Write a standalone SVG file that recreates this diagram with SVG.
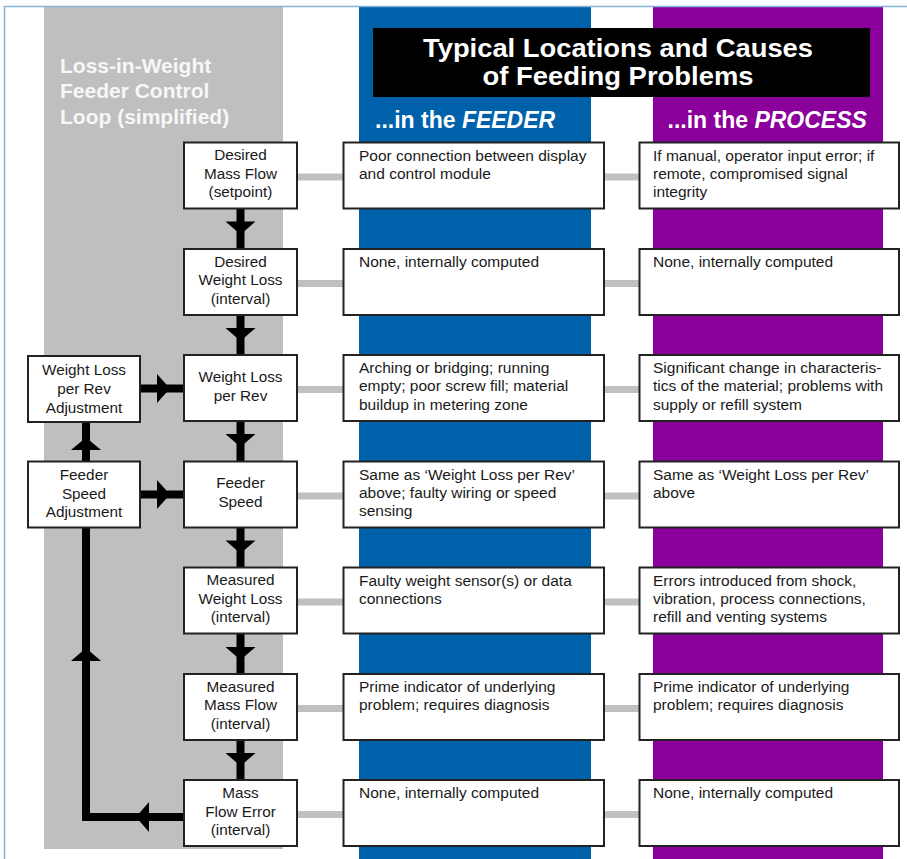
<svg xmlns="http://www.w3.org/2000/svg" width="907" height="859" viewBox="0 0 907 859">
<style>
.box{fill:#fff;stroke:#222;stroke-width:2}
.t{font-family:"Liberation Sans",Arial,sans-serif;font-size:15.3px;fill:#1a1a1a}
.c{text-anchor:middle}
.d{font-size:15.5px}
.g{fill:#c0c0c0}
.k{fill:#000}
.w{font-family:"Liberation Sans",Arial,sans-serif;font-weight:bold;fill:#fff}
</style>
<rect x="0" y="0" width="907" height="859" fill="#fff"/>
<g id="columns">
<rect x="44" y="6" width="239" height="843" fill="#bfbfbf"/>
<rect x="359" y="6" width="232" height="853" fill="#0061ab"/>
<rect x="653" y="6" width="230" height="853" fill="#8b009b"/>
<path d="M4.5 859V6.5H907" fill="none" stroke="#84b4da" stroke-width="1.5"/>
</g>
<g id="titles">
<rect x="373" y="28" width="497" height="69" fill="#000"/>
<text class="w" x="618" y="57" font-size="26" text-anchor="middle" textLength="390" lengthAdjust="spacingAndGlyphs">Typical Locations and Causes</text>
<text class="w" x="618" y="85" font-size="26" text-anchor="middle" textLength="271" lengthAdjust="spacingAndGlyphs">of Feeding Problems</text>
<text class="w" font-size="21" style="fill:#f7f7f7"><tspan x="60" y="73">Loss-in-Weight</tspan><tspan x="60" y="98.3">Feeder Control</tspan><tspan x="60" y="124">Loop (simplified)</tspan></text>
<text class="w" x="375" y="128.3" font-size="23">...in the <tspan font-style="italic">FEEDER</tspan></text>
<text class="w" x="667.5" y="128.3" font-size="23">...in the <tspan font-style="italic">PROCESS</tspan></text>
</g>
<g id="connectors">
<rect class="g" x="297" y="173.5" width="47" height="7"/><rect class="g" x="604" y="173.5" width="36" height="7"/>
<rect class="g" x="297" y="280" width="47" height="7"/><rect class="g" x="604" y="280" width="36" height="7"/>
<rect class="g" x="297" y="386" width="47" height="7"/><rect class="g" x="604" y="386" width="36" height="7"/>
<rect class="g" x="297" y="492.5" width="47" height="7"/><rect class="g" x="604" y="492.5" width="36" height="7"/>
<rect class="g" x="297" y="598.5" width="47" height="7"/><rect class="g" x="604" y="598.5" width="36" height="7"/>
<rect class="g" x="297" y="705" width="47" height="7"/><rect class="g" x="604" y="705" width="36" height="7"/>
<rect class="g" x="297" y="811" width="47" height="7"/><rect class="g" x="604" y="811" width="36" height="7"/>
<rect class="k" x="236.5" y="208" width="8" height="42"/><polygon class="k" points="225.5,221.5 255.5,221.5 240.5,234.5"/>
<rect class="k" x="236.5" y="314" width="8" height="42"/><polygon class="k" points="225.5,328 255.5,328 240.5,341"/>
<rect class="k" x="236.5" y="420" width="8" height="42"/><polygon class="k" points="225.5,434 255.5,434 240.5,447"/>
<rect class="k" x="236.5" y="527" width="8" height="42"/><polygon class="k" points="225.5,540.5 255.5,540.5 240.5,553.5"/>
<rect class="k" x="236.5" y="633" width="8" height="42"/><polygon class="k" points="225.5,647 255.5,647 240.5,660"/>
<rect class="k" x="236.5" y="739" width="8" height="42"/><polygon class="k" points="225.5,753 255.5,753 240.5,766"/>
<rect class="k" x="82" y="421" width="8" height="42"/><polygon class="k" points="71,450 101,450 86,437.5"/>
<rect class="k" x="82" y="527" width="8" height="294"/>
<rect class="k" x="82" y="813" width="103" height="8"/>
<polygon class="k" points="71,661 101,661 86,648"/>
<polygon class="k" points="149,802 149,832 136,817"/>
<rect class="k" x="140" y="384.5" width="45" height="8"/><polygon class="k" points="157,374 157,403 170,388.5"/>
<rect class="k" x="140" y="490.5" width="45" height="8"/><polygon class="k" points="157,480 157,509 170,494.5"/>
</g>
<g id="n-desired-mass-flow"><rect class="box" x="184" y="142.5" width="113" height="66"/><text class="t c"><tspan x="240.5" y="160">Desired</tspan><tspan x="240.5" y="178.5">Mass Flow</tspan><tspan x="240.5" y="197">(setpoint)</tspan></text></g>
<g id="n-desired-weight-loss"><rect class="box" x="184" y="249" width="113" height="66"/><text class="t c"><tspan x="240.5" y="266.5">Desired</tspan><tspan x="240.5" y="285">Weight Loss</tspan><tspan x="240.5" y="303.5">(interval)</tspan></text></g>
<g id="n-weight-loss-per-rev"><rect class="box" x="184" y="355" width="113" height="66"/><text class="t c"><tspan x="240.5" y="381.7">Weight Loss</tspan><tspan x="240.5" y="400.7">per Rev</tspan></text></g>
<g id="n-feeder-speed"><rect class="box" x="184" y="461.5" width="113" height="66"/><text class="t c"><tspan x="240.5" y="488.2">Feeder</tspan><tspan x="240.5" y="507.2">Speed</tspan></text></g>
<g id="n-measured-weight-loss"><rect class="box" x="184" y="567.5" width="113" height="66"/><text class="t c"><tspan x="240.5" y="585">Measured</tspan><tspan x="240.5" y="603.5">Weight Loss</tspan><tspan x="240.5" y="622">(interval)</tspan></text></g>
<g id="n-measured-mass-flow"><rect class="box" x="184" y="674" width="113" height="66"/><text class="t c"><tspan x="240.5" y="691.5">Measured</tspan><tspan x="240.5" y="710">Mass Flow</tspan><tspan x="240.5" y="728.5">(interval)</tspan></text></g>
<g id="n-mass-flow-error"><rect class="box" x="184" y="780" width="113" height="66"/><text class="t c"><tspan x="240.5" y="798">Mass</tspan><tspan x="240.5" y="816.5">Flow Error</tspan><tspan x="240.5" y="835">(interval)</tspan></text></g>
<g id="n-wl-rev-adjustment"><rect class="box" x="28" y="356" width="112" height="66"/><text class="t c"><tspan x="84" y="375">Weight Loss</tspan><tspan x="84" y="394">per Rev</tspan><tspan x="84" y="412.5">Adjustment</tspan></text></g>
<g id="n-feeder-speed-adjustment"><rect class="box" x="28" y="461.5" width="112" height="66"/><text class="t c"><tspan x="84" y="480">Feeder</tspan><tspan x="84" y="499">Speed</tspan><tspan x="84" y="517">Adjustment</tspan></text></g>
<g id="f0"><rect class="box" x="343.5" y="142.5" width="260.5" height="66"/><text class="t d"><tspan x="359" y="160.5">Poor connection between display</tspan><tspan x="359" y="178.8">and control module</tspan></text></g>
<g id="f1"><rect class="box" x="343.5" y="249" width="260.5" height="66"/><text class="t d"><tspan x="359" y="267">None, internally computed</tspan></text></g>
<g id="f2"><rect class="box" x="343.5" y="355" width="260.5" height="66"/><text class="t d"><tspan x="359" y="373">Arching or bridging; running</tspan><tspan x="359" y="391.3">empty; poor screw fill; material</tspan><tspan x="359" y="409.6">buildup in metering zone</tspan></text></g>
<g id="f3"><rect class="box" x="343.5" y="461.5" width="260.5" height="66"/><text class="t d"><tspan x="359" y="479.5">Same as ‘Weight Loss per Rev’</tspan><tspan x="359" y="497.8">above; faulty wiring or speed</tspan><tspan x="359" y="516.1">sensing</tspan></text></g>
<g id="f4"><rect class="box" x="343.5" y="567.5" width="260.5" height="66"/><text class="t d"><tspan x="359" y="585.5">Faulty weight sensor(s) or data</tspan><tspan x="359" y="603.8">connections</tspan></text></g>
<g id="f5"><rect class="box" x="343.5" y="674" width="260.5" height="66"/><text class="t d"><tspan x="359" y="692">Prime indicator of underlying</tspan><tspan x="359" y="710.3">problem; requires diagnosis</tspan></text></g>
<g id="f6"><rect class="box" x="343.5" y="780" width="260.5" height="66"/><text class="t d"><tspan x="359" y="798">None, internally computed</tspan></text></g>
<g id="p0"><rect class="box" x="639.5" y="142.5" width="259.5" height="66"/><text class="t d"><tspan x="653" y="160.5">If manual, operator input error; if</tspan><tspan x="653" y="178.8">remote, compromised signal</tspan><tspan x="653" y="197.1">integrity</tspan></text></g>
<g id="p1"><rect class="box" x="639.5" y="249" width="259.5" height="66"/><text class="t d"><tspan x="653" y="267">None, internally computed</tspan></text></g>
<g id="p2"><rect class="box" x="639.5" y="355" width="259.5" height="66"/><text class="t d"><tspan x="653" y="373">Significant change in characteris-</tspan><tspan x="653" y="391.3">tics of the material; problems with</tspan><tspan x="653" y="409.6">supply or refill system</tspan></text></g>
<g id="p3"><rect class="box" x="639.5" y="461.5" width="259.5" height="66"/><text class="t d"><tspan x="653" y="479.5">Same as ‘Weight Loss per Rev’</tspan><tspan x="653" y="497.8">above</tspan></text></g>
<g id="p4"><rect class="box" x="639.5" y="567.5" width="259.5" height="66"/><text class="t d"><tspan x="653" y="585.5">Errors introduced from shock,</tspan><tspan x="653" y="603.8">vibration, process connections,</tspan><tspan x="653" y="622.1">refill and venting systems</tspan></text></g>
<g id="p5"><rect class="box" x="639.5" y="674" width="259.5" height="66"/><text class="t d"><tspan x="653" y="692">Prime indicator of underlying</tspan><tspan x="653" y="710.3">problem; requires diagnosis</tspan></text></g>
<g id="p6"><rect class="box" x="639.5" y="780" width="259.5" height="66"/><text class="t d"><tspan x="653" y="798">None, internally computed</tspan></text></g>
</svg>
